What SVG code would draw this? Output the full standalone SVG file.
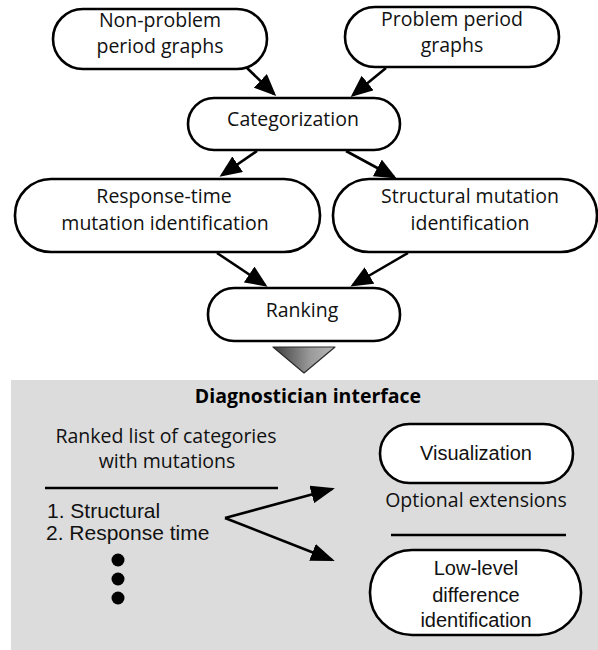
<svg xmlns="http://www.w3.org/2000/svg" width="598" height="650" viewBox="0 0 598 650">
  <defs>
    <style>
      .node { fill: #ffffff; stroke: #000000; stroke-width: 2.6; }
      .lbl { font-family: "Open Sans", "Liberation Sans", sans-serif; font-size: 19.5px; fill: #111111; text-anchor: middle; }
      .hel { font-family: "Liberation Sans", Arial, sans-serif; font-size: 20px; fill: #111111; }
      .list { font-size: 21px; }
      .hel-c { text-anchor: middle; }
      .title { font-family: "Open Sans", "Liberation Sans", sans-serif; font-size: 19.5px; font-weight: bold; fill: #000000; text-anchor: middle; }
      .edge { stroke: #000000; stroke-width: 2.6; fill: none; }
      .rule { stroke: #000000; stroke-width: 2.6; }
    </style>
    <marker id="arrow" viewBox="0 0 22 19" refX="19" refY="9.5" markerWidth="22" markerHeight="19" markerUnits="userSpaceOnUse" orient="auto">
      <path d="M0,0 L22,9.5 L0,19 z" fill="#000000"/>
    </marker>
    <marker id="arrow-lg" viewBox="0 0 24 18" refX="21" refY="9" markerWidth="24" markerHeight="18" markerUnits="userSpaceOnUse" orient="auto">
      <path d="M0,0 L24,9 L0,18 z" fill="#000000"/>
    </marker>
    <linearGradient id="funnel" x1="0" y1="0" x2="1" y2="0">
      <stop offset="0" stop-color="#3c3c3c"/>
      <stop offset="0.6" stop-color="#9a9a9a"/>
      <stop offset="1" stop-color="#b8b8b8"/>
    </linearGradient>
  </defs>

  <!-- lower panel -->
  <rect id="panel" x="11" y="380" width="587" height="270" fill="#dcdcdc"/>

  <!-- flow connectors -->
  <g id="connectors">
    <line class="edge" x1="247" y1="68" x2="274" y2="94" marker-end="url(#arrow)"/>
    <line class="edge" x1="386" y1="68" x2="353" y2="95" marker-end="url(#arrow)"/>
    <line class="edge" x1="257" y1="151" x2="222" y2="175" marker-end="url(#arrow)"/>
    <line class="edge" x1="346" y1="151" x2="394" y2="177" marker-end="url(#arrow)"/>
    <line class="edge" x1="217" y1="253" x2="265" y2="285" marker-end="url(#arrow)"/>
    <line class="edge" x1="408" y1="253" x2="353" y2="285" marker-end="url(#arrow)"/>
    <line class="edge" x1="225" y1="518" x2="332" y2="489" marker-end="url(#arrow-lg)"/>
    <line class="edge" x1="225" y1="518" x2="332" y2="560" marker-end="url(#arrow-lg)"/>
  </g>

  <g id="non-problem">
    <rect class="node" x="53" y="9" width="214" height="60" rx="30" ry="30"/>
    <text class="lbl" x="160" y="27">Non-problem</text>
    <text class="lbl" x="160" y="53">period graphs</text>
  </g>

  <g id="problem">
    <rect class="node" x="345" y="7" width="214" height="60" rx="30" ry="30"/>
    <text class="lbl" x="452" y="26">Problem period</text>
    <text class="lbl" x="452" y="52">graphs</text>
  </g>

  <g id="categorization">
    <rect class="node" x="188" y="98" width="212" height="52" rx="26" ry="26"/>
    <text class="lbl" x="293" y="126">Categorization</text>
  </g>

  <g id="response-time">
    <rect class="node" x="15" y="179" width="305" height="73" rx="36" ry="36"/>
    <text class="lbl" x="164" y="203">Response-time</text>
    <text class="lbl" x="165" y="230">mutation identification</text>
  </g>

  <g id="structural">
    <rect class="node" x="333" y="179" width="264" height="73" rx="36" ry="36"/>
    <text class="lbl" x="470" y="203">Structural mutation</text>
    <text class="lbl" x="470" y="230">identification</text>
  </g>

  <g id="ranking">
    <rect class="node" x="208" y="288" width="192" height="53" rx="26" ry="26"/>
    <text class="lbl" x="302" y="317">Ranking</text>
  </g>

  <g id="funnel-marker">
    <polygon points="273,347 335,347 304,373" fill="url(#funnel)" stroke="#2a2a2a" stroke-width="1.2" stroke-linejoin="round"/>
  </g>

  <g id="diagnostician-interface">
    <text class="title" x="308" y="403">Diagnostician interface</text>
  </g>

  <g id="ranked-list">
    <text class="lbl" x="166" y="443">Ranked list of categories</text>
    <text class="lbl" x="167" y="468">with mutations</text>
    <line class="rule" x1="45" y1="488" x2="278" y2="488"/>
    <text class="hel list" x="47" y="518">1. Structural</text>
    <text class="hel list" x="46" y="540">2. Response time</text>
    <circle cx="118" cy="560" r="6.5" fill="#000000"/>
    <circle cx="118" cy="579" r="6.5" fill="#000000"/>
    <circle cx="118" cy="598" r="6.5" fill="#000000"/>
  </g>

  <g id="visualization">
    <rect class="node" x="380" y="424" width="193" height="59" rx="29.5" ry="29.5"/>
    <text class="hel hel-c" x="476" y="460">Visualization</text>
  </g>

  <g id="optional-extensions">
    <text class="lbl" x="476" y="507">Optional extensions</text>
    <line class="rule" x1="391" y1="535" x2="566" y2="535"/>
  </g>

  <g id="low-level">
    <rect class="node" x="370" y="550" width="211" height="85" rx="42" ry="42"/>
    <text class="hel hel-c" x="476" y="575">Low-level</text>
    <text class="hel hel-c" x="476" y="602">difference</text>
    <text class="hel hel-c" x="476" y="627">identification</text>
  </g>
</svg>
